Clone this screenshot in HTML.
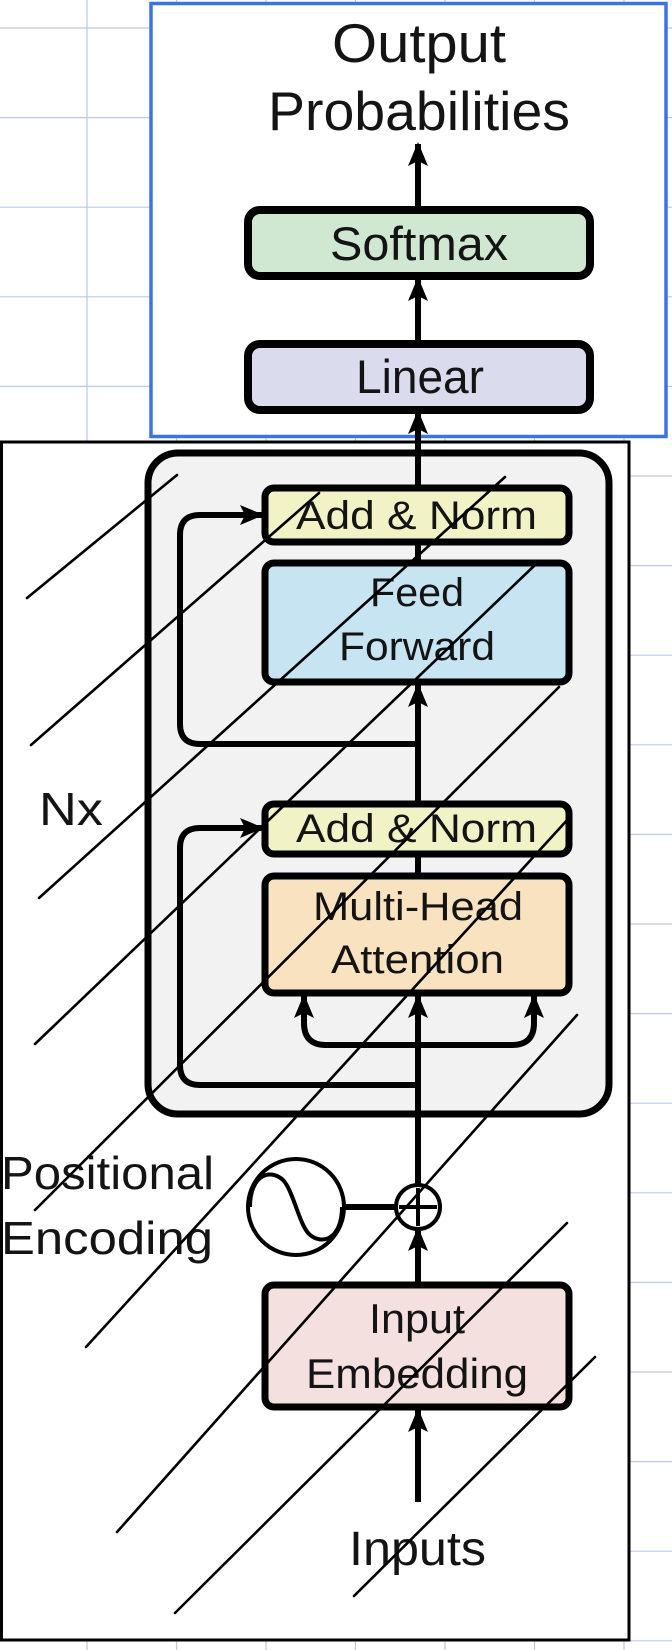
<!DOCTYPE html>
<html><head><meta charset="utf-8"><style>
html,body{margin:0;padding:0;background:#fff;}
svg{display:block;}
text{font-family:"Liberation Sans",sans-serif;fill:#141414;}
</style></head><body>
<svg width="672" height="1650" viewBox="0 0 672 1650" xmlns="http://www.w3.org/2000/svg">
<defs>
<marker id="ah" viewBox="0 0 24 20" refX="22" refY="10" markerWidth="24" markerHeight="20" markerUnits="userSpaceOnUse" orient="auto-start-reverse">
<path d="M24,10 L0,0 L5,10 L0,20 Z" fill="#000"/>
</marker>
</defs>
<g id="grid" stroke="#b9c9e4" stroke-width="1.2"></g>

<rect x="1.5" y="442" width="627.5" height="1198" fill="#fff" stroke="#000" stroke-width="3"/>
<rect x="151" y="3.5" width="515" height="433" fill="#fff" stroke="#3b74e2" stroke-width="3.5"/>

<text x="332" y="62" font-size="55" textLength="174" lengthAdjust="spacingAndGlyphs">Output</text>
<text x="268" y="130" font-size="55" textLength="302" lengthAdjust="spacingAndGlyphs">Probabilities</text>

<rect x="148" y="453" width="461" height="661" rx="30" fill="#f2f2f2" stroke="#000" stroke-width="7"/>

<g stroke="#000" stroke-width="6" fill="none">
<line x1="418" y1="1188" x2="418" y2="340"/>
<line x1="418" y1="207" x2="418" y2="144" marker-end="url(#ah)"/>
<line x1="418" y1="340" x2="418" y2="279" marker-end="url(#ah)"/>
<line x1="418" y1="440" x2="418" y2="412" marker-end="url(#ah)"/>
<line x1="418" y1="744" x2="418" y2="685" marker-end="url(#ah)"/>
<line x1="418" y1="1045" x2="418" y2="996" marker-end="url(#ah)"/>
<line x1="418" y1="1282" x2="418" y2="1229" marker-end="url(#ah)"/>
<line x1="418" y1="1502" x2="418" y2="1410" marker-end="url(#ah)"/>
<path d="M418,744 L200,744 Q180,744 180,724 L180,535 Q180,515 200,515 L262,515" marker-end="url(#ah)"/>
<path d="M418,1085 L200,1085 Q180,1085 180,1065 L180,848 Q180,828 200,828 L262,828" marker-end="url(#ah)"/>
<path d="M304,996 L304,1023 Q304,1045 326,1045 L512,1045 Q534,1045 534,1023 L534,996" marker-start="url(#ah)" marker-end="url(#ah)"/>
<line x1="344" y1="1207" x2="396" y2="1207"/>
</g>

<rect x="248" y="210" width="342" height="66" rx="12" fill="#d0e8d2" stroke="#000" stroke-width="8"/>
<text x="330" y="260" font-size="47" textLength="178" lengthAdjust="spacingAndGlyphs">Softmax</text>
<rect x="248" y="344" width="342" height="66" rx="12" fill="#dadcee" stroke="#000" stroke-width="8"/>
<text x="356" y="393" font-size="47" textLength="128" lengthAdjust="spacingAndGlyphs">Linear</text>

<rect x="265" y="488" width="304" height="54" rx="9" fill="#f1f2c6" stroke="#000" stroke-width="7"/>
<text x="296" y="529" font-size="40" textLength="241" lengthAdjust="spacingAndGlyphs">Add &amp; Norm</text>
<rect x="265" y="563" width="304" height="119" rx="9" fill="#c6e4f2" stroke="#000" stroke-width="7"/>
<text x="370" y="606" font-size="40" textLength="94" lengthAdjust="spacingAndGlyphs">Feed</text>
<text x="339" y="660" font-size="40" textLength="156" lengthAdjust="spacingAndGlyphs">Forward</text>
<rect x="265" y="804" width="304" height="50" rx="9" fill="#f1f2c6" stroke="#000" stroke-width="7"/>
<text x="296" y="842" font-size="40" textLength="241" lengthAdjust="spacingAndGlyphs">Add &amp; Norm</text>
<rect x="265" y="876" width="304" height="117" rx="9" fill="#f8e2bf" stroke="#000" stroke-width="7"/>
<text x="313" y="920" font-size="40" textLength="210" lengthAdjust="spacingAndGlyphs">Multi-Head</text>
<text x="331" y="973" font-size="40" textLength="173" lengthAdjust="spacingAndGlyphs">Attention</text>

<text x="39" y="825" font-size="46" textLength="64" lengthAdjust="spacingAndGlyphs">Nx</text>
<text x="1" y="1189" font-size="46" textLength="213" lengthAdjust="spacingAndGlyphs">Positional</text>
<text x="1" y="1254" font-size="46" textLength="212" lengthAdjust="spacingAndGlyphs">Encoding</text>

<g fill="#fff" stroke="#000" stroke-width="4">
<circle cx="296" cy="1207" r="48"/>
<path d="M250,1207 C250,1175 270,1168 283,1180 C293,1190 299,1224 309,1234 C322,1246 342,1239 342,1207" fill="none"/>
</g>
<g fill="#fff" stroke="#000" stroke-width="4">
<circle cx="418" cy="1207" r="22"/>
<line x1="418" y1="1188" x2="418" y2="1226"/>
<line x1="399" y1="1207" x2="437" y2="1207"/>
</g>

<rect x="265" y="1285" width="304" height="122" rx="9" fill="#f4e0df" stroke="#000" stroke-width="7"/>
<text x="369" y="1333" font-size="42" textLength="96" lengthAdjust="spacingAndGlyphs">Input</text>
<text x="306" y="1388" font-size="42" textLength="222" lengthAdjust="spacingAndGlyphs">Embedding</text>
<text x="349" y="1565" font-size="48" textLength="137" lengthAdjust="spacingAndGlyphs">Inputs</text>

<g id="strokes" stroke="#000" stroke-width="2.6" stroke-linecap="round"></g>
</svg>
<script>
const NS='http://www.w3.org/2000/svg';
const strokeX1=[27,31,39,35,35,86,117,175,354];
const strokeY1=[598,745,898,1044,1210,1347,1532,1613,1596];
const strokeX2=[177,319,505,535,559,569,577,567,595];
const strokeY2=[475,493,477,565,687,818,1015,1223,1357];
const gs=document.getElementById('strokes');
for(let i=0;i<strokeX1.length;i++){
  const l=document.createElementNS(NS,'line');
  l.setAttribute('x1',strokeX1[i]);l.setAttribute('y1',strokeY1[i]);
  l.setAttribute('x2',strokeX2[i]);l.setAttribute('y2',strokeY2[i]);
  
  
  gs.appendChild(l);
}
const g=document.getElementById('grid');
for(let x=87;x<672;x+=89.5){
  const l=document.createElementNS(NS,'line');
  l.setAttribute('x1',x);l.setAttribute('x2',x);l.setAttribute('y1',0);l.setAttribute('y2',1650);
  
  
  g.appendChild(l);
}
for(let y=28;y<1650;y+=89.6){
  const l=document.createElementNS(NS,'line');
  l.setAttribute('x1',0);l.setAttribute('x2',672);l.setAttribute('y1',y);l.setAttribute('y2',y);
  
  
  g.appendChild(l);
}
</script>
</body></html>
